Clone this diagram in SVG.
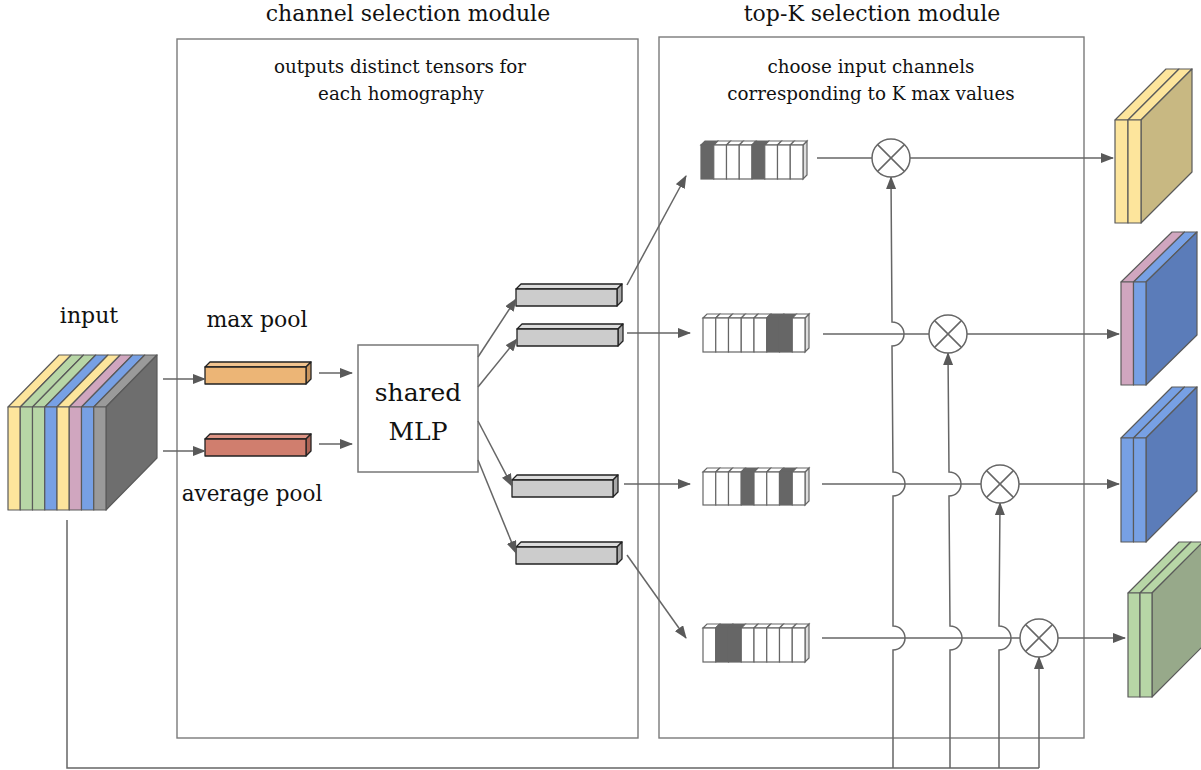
<svg xmlns="http://www.w3.org/2000/svg" width="1201" height="770" viewBox="0 0 1201 770">
<style>
text{font-family:"DejaVu Serif","Liberation Serif",serif;fill:#111;text-anchor:middle}
.box{fill:none;stroke:#7a7a7a;stroke-width:1.4}
.ln{fill:none;stroke:#666;stroke-width:1.5}
.t{stroke:#5a5a5a;stroke-width:1.2;stroke-linejoin:round}
.b{stroke:#222;stroke-width:1.3;stroke-linejoin:round}
.c{stroke:#666;stroke-width:1.2;fill:#fff}
.cd{stroke:#666;stroke-width:1.2;fill:#666}
.cs{stroke:#666;stroke-width:1.2;fill:#ddd}
.y{fill:#fde59c}.g{fill:#b7d6a6}.bl{fill:#77a0e4}.p{fill:#d0a6bf}.gr{fill:#9a9a9a}
.mul{fill:#fff;stroke:#666;stroke-width:1.5}
</style>
<defs>
<marker id="ah" markerUnits="userSpaceOnUse" markerWidth="13" markerHeight="10" refX="12" refY="5" orient="auto">
<path d="M0,0 L13,5 L0,10 z" fill="#595959"/>
</marker>
</defs>

<g id="channel-selection-module">
<rect class="box" x="177" y="39" width="461" height="699"/>
<text x="408" y="21" font-size="22">channel selection module</text>
<text x="400" y="73" font-size="18.3">outputs distinct tensors for</text>
<text x="401" y="100" font-size="18.3">each homography</text>
</g>
<g id="topk-selection-module">
<rect class="box" x="659" y="37" width="425" height="701"/>
<text x="872" y="21" font-size="22">top-K selection module</text>
<text x="871" y="73" font-size="18.3">choose input channels</text>
<text x="871" y="100" font-size="18.3">corresponding to K max values</text>
</g>

<g id="input">
<text x="89" y="323" font-size="22">input</text>
<g class="t">
<polygon class="y" points="8,407 20.25,407 71.25,355 59,355"/>
<polygon class="g" points="20.25,407 32.5,407 83.5,355 71.25,355"/>
<polygon class="g" points="32.5,407 44.75,407 95.75,355 83.5,355"/>
<polygon class="bl" points="44.75,407 57,407 108,355 95.75,355"/>
<polygon class="y" points="57,407 69.25,407 120.25,355 108,355"/>
<polygon class="p" points="69.25,407 81.5,407 132.5,355 120.25,355"/>
<polygon class="bl" points="81.5,407 93.75,407 144.75,355 132.5,355"/>
<polygon class="gr" points="93.75,407 106,407 157,355 144.75,355"/>
<polygon fill="#6e6e6e" points="106,407 157,355 157,458 106,510"/>
<rect class="y" x="8" y="407" width="12.25" height="103"/>
<rect class="g" x="20.25" y="407" width="12.25" height="103"/>
<rect class="g" x="32.5" y="407" width="12.25" height="103"/>
<rect class="bl" x="44.75" y="407" width="12.25" height="103"/>
<rect class="y" x="57" y="407" width="12.25" height="103"/>
<rect class="p" x="69.25" y="407" width="12.25" height="103"/>
<rect class="bl" x="81.5" y="407" width="12.25" height="103"/>
<rect class="gr" x="93.75" y="407" width="12.25" height="103"/>
</g>
</g>

<g id="max-pool">
<text x="257" y="327" font-size="22">max pool</text>
<g class="b">
<polygon fill="#f2c48f" points="205,367 210,362 311,362 306,367"/>
<polygon fill="#c9955e" points="306,367 311,362 311,379 306,384"/>
<rect fill="#ecb576" x="205" y="367" width="101" height="17"/>
</g>
</g>
<g id="average-pool">
<text x="252" y="501" font-size="21.5">average pool</text>
<g class="b">
<polygon fill="#de9586" points="205,439 210,434 311,434 306,439"/>
<polygon fill="#ad6456" points="306,439 311,434 311,451 306,456"/>
<rect fill="#d07e6e" x="205" y="439" width="101" height="17"/>
</g>
</g>

<g id="shared-mlp">
<rect x="358" y="345" width="120" height="127" fill="#fff" stroke="#777" stroke-width="1.5"/>
<text x="418" y="401" font-size="25">shared</text>
<text x="418" y="440" font-size="25">MLP</text>
</g>

<g id="mlp-out-1" class="b">
<polygon fill="#dcdcdc" points="516,289 521,284 622,284 617,289"/>
<polygon fill="#a8a8a8" points="617,289 622,284 622,301 617,306"/>
<rect fill="#cccccc" x="516" y="289" width="101" height="17"/>
</g>
<g id="mlp-out-2" class="b">
<polygon fill="#dcdcdc" points="517,329 522,324 623,324 618,329"/>
<polygon fill="#a8a8a8" points="618,329 623,324 623,341 618,346"/>
<rect fill="#cccccc" x="517" y="329" width="101" height="17"/>
</g>
<g id="mlp-out-3" class="b">
<polygon fill="#dcdcdc" points="512,480 517,475 618,475 613,480"/>
<polygon fill="#a8a8a8" points="613,480 618,475 618,492 613,497"/>
<rect fill="#cccccc" x="512" y="480" width="101" height="17"/>
</g>
<g id="mlp-out-4" class="b">
<polygon fill="#dcdcdc" points="516,547 521,542 622,542 617,547"/>
<polygon fill="#a8a8a8" points="617,547 622,542 622,559 617,564"/>
<rect fill="#cccccc" x="516" y="547" width="101" height="17"/>
</g>

<g id="topk-1">
<polygon class="cs" points="803,145 807,141 807,175 803,179"/>
<polygon class="cd" points="701,145 705,141 717.75,141 713.75,145"/>
<polygon class="c" points="713.75,145 717.75,141 730.5,141 726.5,145"/>
<polygon class="c" points="726.5,145 730.5,141 743.25,141 739.25,145"/>
<polygon class="c" points="739.25,145 743.25,141 756,141 752,145"/>
<polygon class="cd" points="752,145 756,141 768.75,141 764.75,145"/>
<polygon class="c" points="764.75,145 768.75,141 781.5,141 777.5,145"/>
<polygon class="c" points="777.5,145 781.5,141 794.25,141 790.25,145"/>
<polygon class="c" points="790.25,145 794.25,141 807,141 803,145"/>
<rect class="cd" x="701" y="145" width="12.75" height="34"/>
<rect class="c" x="713.75" y="145" width="12.75" height="34"/>
<rect class="c" x="726.5" y="145" width="12.75" height="34"/>
<rect class="c" x="739.25" y="145" width="12.75" height="34"/>
<rect class="cd" x="752" y="145" width="12.75" height="34"/>
<rect class="c" x="764.75" y="145" width="12.75" height="34"/>
<rect class="c" x="777.5" y="145" width="12.75" height="34"/>
<rect class="c" x="790.25" y="145" width="12.75" height="34"/>
</g>
<g id="topk-2">
<polygon class="cs" points="805,318 809,314 809,348 805,352"/>
<polygon class="c" points="703,318 707,314 719.75,314 715.75,318"/>
<polygon class="c" points="715.75,318 719.75,314 732.5,314 728.5,318"/>
<polygon class="c" points="728.5,318 732.5,314 745.25,314 741.25,318"/>
<polygon class="c" points="741.25,318 745.25,314 758,314 754,318"/>
<polygon class="c" points="754,318 758,314 770.75,314 766.75,318"/>
<polygon class="cd" points="766.75,318 770.75,314 783.5,314 779.5,318"/>
<polygon class="cd" points="779.5,318 783.5,314 796.25,314 792.25,318"/>
<polygon class="c" points="792.25,318 796.25,314 809,314 805,318"/>
<rect class="c" x="703" y="318" width="12.75" height="34"/>
<rect class="c" x="715.75" y="318" width="12.75" height="34"/>
<rect class="c" x="728.5" y="318" width="12.75" height="34"/>
<rect class="c" x="741.25" y="318" width="12.75" height="34"/>
<rect class="c" x="754" y="318" width="12.75" height="34"/>
<rect class="cd" x="766.75" y="318" width="12.75" height="34"/>
<rect class="cd" x="779.5" y="318" width="12.75" height="34"/>
<rect class="c" x="792.25" y="318" width="12.75" height="34"/>
</g>
<g id="topk-3">
<polygon class="cs" points="805,472 809,468 809,501 805,505"/>
<polygon class="c" points="703,472 707,468 719.75,468 715.75,472"/>
<polygon class="c" points="715.75,472 719.75,468 732.5,468 728.5,472"/>
<polygon class="c" points="728.5,472 732.5,468 745.25,468 741.25,472"/>
<polygon class="cd" points="741.25,472 745.25,468 758,468 754,472"/>
<polygon class="c" points="754,472 758,468 770.75,468 766.75,472"/>
<polygon class="c" points="766.75,472 770.75,468 783.5,468 779.5,472"/>
<polygon class="cd" points="779.5,472 783.5,468 796.25,468 792.25,472"/>
<polygon class="c" points="792.25,472 796.25,468 809,468 805,472"/>
<rect class="c" x="703" y="472" width="12.75" height="33"/>
<rect class="c" x="715.75" y="472" width="12.75" height="33"/>
<rect class="c" x="728.5" y="472" width="12.75" height="33"/>
<rect class="cd" x="741.25" y="472" width="12.75" height="33"/>
<rect class="c" x="754" y="472" width="12.75" height="33"/>
<rect class="c" x="766.75" y="472" width="12.75" height="33"/>
<rect class="cd" x="779.5" y="472" width="12.75" height="33"/>
<rect class="c" x="792.25" y="472" width="12.75" height="33"/>
</g>
<g id="topk-4">
<polygon class="cs" points="805,628 809,624 809,658 805,662"/>
<polygon class="c" points="703,628 707,624 719.75,624 715.75,628"/>
<polygon class="cd" points="715.75,628 719.75,624 732.5,624 728.5,628"/>
<polygon class="cd" points="728.5,628 732.5,624 745.25,624 741.25,628"/>
<polygon class="c" points="741.25,628 745.25,624 758,624 754,628"/>
<polygon class="c" points="754,628 758,624 770.75,624 766.75,628"/>
<polygon class="c" points="766.75,628 770.75,624 783.5,624 779.5,628"/>
<polygon class="c" points="779.5,628 783.5,624 796.25,624 792.25,628"/>
<polygon class="c" points="792.25,628 796.25,624 809,624 805,628"/>
<rect class="c" x="703" y="628" width="12.75" height="34"/>
<rect class="cd" x="715.75" y="628" width="12.75" height="34"/>
<rect class="cd" x="728.5" y="628" width="12.75" height="34"/>
<rect class="c" x="741.25" y="628" width="12.75" height="34"/>
<rect class="c" x="754" y="628" width="12.75" height="34"/>
<rect class="c" x="766.75" y="628" width="12.75" height="34"/>
<rect class="c" x="779.5" y="628" width="12.75" height="34"/>
<rect class="c" x="792.25" y="628" width="12.75" height="34"/>
</g>

<g id="connectors">
<path class="ln" marker-end="url(#ah)" d="M163,379 L205,379"/>
<path class="ln" marker-end="url(#ah)" d="M163,451 L205,451"/>
<path class="ln" marker-end="url(#ah)" d="M319,373 L352,373"/>
<path class="ln" marker-end="url(#ah)" d="M319,444 L352,444"/>
<path class="ln" marker-end="url(#ah)" d="M478,357 L516,299"/>
<path class="ln" marker-end="url(#ah)" d="M478,387 L517,339"/>
<path class="ln" marker-end="url(#ah)" d="M478,421 L512,486"/>
<path class="ln" marker-end="url(#ah)" d="M478,460 L516,553"/>
<path class="ln" marker-end="url(#ah)" d="M627,285 L686,176"/>
<path class="ln" marker-end="url(#ah)" d="M627,333 L690,333"/>
<path class="ln" marker-end="url(#ah)" d="M624,484 L690,484"/>
<path class="ln" marker-end="url(#ah)" d="M627,555 L686,638"/>
<path class="ln" d="M817,158 L872,158"/>
<path class="ln" marker-end="url(#ah)" d="M910,158 L1113,158"/>
<path class="ln" d="M823,334 L929,334"/>
<path class="ln" marker-end="url(#ah)" d="M967,334 L1119,334"/>
<path class="ln" d="M822,484 L981,484"/>
<path class="ln" marker-end="url(#ah)" d="M1019,484 L1119,484"/>
<path class="ln" d="M822,638 L1020,638"/>
<path class="ln" marker-end="url(#ah)" d="M1058,638 L1125,638"/>
<path class="ln" d="M67,520 L67,768 L1039,768"/>
<path class="ln" marker-end="url(#ah)" d="M893,768 L893,650 A12,12 0 0 0 893,626 L893,496 A12,12 0 0 0 893,472 L892,346 A12,12 0 0 0 892,322 L891,177"/>
<path class="ln" marker-end="url(#ah)" d="M950,768 L950,650 A12,12 0 0 0 950,626 L949,496 A12,12 0 0 0 949,472 L948,353"/>
<path class="ln" marker-end="url(#ah)" d="M999,768 L999,650 A12,12 0 0 0 999,626 L1000,503"/>
<path class="ln" marker-end="url(#ah)" d="M1039,768 L1039,657"/>
</g>

<g id="multiply-1">
<circle class="mul" cx="891" cy="158" r="19"/>
<path class="ln" d="M877.6,144.6 L904.4,171.4 M904.4,144.6 L877.6,171.4"/>
</g>
<g id="multiply-2">
<circle class="mul" cx="948" cy="334" r="19"/>
<path class="ln" d="M934.6,320.6 L961.4,347.4 M961.4,320.6 L934.6,347.4"/>
</g>
<g id="multiply-3">
<circle class="mul" cx="1000" cy="484" r="19"/>
<path class="ln" d="M986.6,470.6 L1013.4,497.4 M1013.4,470.6 L986.6,497.4"/>
</g>
<g id="multiply-4">
<circle class="mul" cx="1039" cy="638" r="19"/>
<path class="ln" d="M1025.6,624.6 L1052.4,651.4 M1052.4,624.6 L1025.6,651.4"/>
</g>

<g id="output-1" class="t">
<polygon class="y" points="1115,120 1128,120 1179,69 1166,69"/>
<polygon class="y" points="1128,120 1141,120 1192,69 1179,69"/>
<polygon fill="#c8b882" points="1141,120 1192,69 1192,172 1141,223"/>
<rect class="y" x="1115" y="120" width="13" height="103"/>
<rect class="y" x="1128" y="120" width="13" height="103"/>
</g>
<g id="output-2" class="t">
<polygon class="p" points="1121,282 1133.5,282 1184.5,232 1172,232"/>
<polygon class="bl" points="1133.5,282 1146,282 1197,232 1184.5,232"/>
<polygon fill="#5b7cb9" points="1146,282 1197,232 1197,335 1146,385"/>
<rect class="p" x="1121" y="282" width="12.5" height="103"/>
<rect class="bl" x="1133.5" y="282" width="12.5" height="103"/>
</g>
<g id="output-3" class="t">
<polygon class="bl" points="1121,438 1133.5,438 1184.5,387 1172,387"/>
<polygon class="bl" points="1133.5,438 1146,438 1197,387 1184.5,387"/>
<polygon fill="#5b7cb9" points="1146,438 1197,387 1197,491 1146,542"/>
<rect class="bl" x="1121" y="438" width="12.5" height="104"/>
<rect class="bl" x="1133.5" y="438" width="12.5" height="104"/>
</g>
<g id="output-4" class="t">
<polygon class="g" points="1128,593 1140,593 1191,542 1179,542"/>
<polygon class="g" points="1140,593 1152,593 1203,542 1191,542"/>
<polygon fill="#97a98a" points="1152,593 1203,542 1203,646 1152,697"/>
<rect class="g" x="1128" y="593" width="12" height="104"/>
<rect class="g" x="1140" y="593" width="12" height="104"/>
</g>
</svg>
